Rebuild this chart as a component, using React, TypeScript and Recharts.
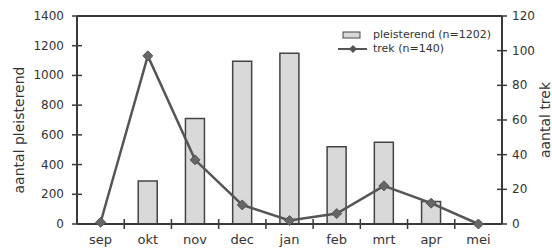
import React from 'react';
import { ComposedChart, Bar, Line, XAxis, YAxis, ReferenceLine, Legend } from 'recharts';

const months = ['sep', 'okt', 'nov', 'dec', 'jan', 'feb', 'mrt', 'apr', 'mei'];
const pleisterend = [0, 290, 710, 1095, 1150, 520, 550, 152, 0];
const trek = [1, 97, 37, 11, 2, 6, 22, 12, 0];
const leftTicks = [0, 200, 400, 600, 800, 1000, 1200, 1400];
const rightTicks = [0, 20, 40, 60, 80, 100, 120];
const seriesNames = ['pleisterend (n=1202)', 'trek (n=140)'];

const data = months.map((m, i) => ({ month: m, pleisterend: pleisterend[i], trek: trek[i] }));

const FONT = 'DejaVu Sans, sans-serif';
const AXIS = '#3a3a3a';
const CHART_W = 552;
const CHART_H = 249;
const LEFT_W = 77;
const RIGHT_W = 50;
const BAND = (CHART_W - LEFT_W - RIGHT_W) / months.length;

const LeftTick = (props: any) => {
  const { x, y, payload } = props;
  return (
    <g>
      <line x1={x - 5} x2={x + 5} y1={y} y2={y} stroke={AXIS} strokeWidth={1.5} />
      <text x={x - 13} y={y} dy={4} textAnchor="end" fontSize={12} fontFamily={FONT} fill="#333">
        {payload.value}
      </text>
    </g>
  );
};

const RightTick = (props: any) => {
  const { x, y, payload } = props;
  return (
    <g>
      <line x1={x - 5} x2={x + 5} y1={y} y2={y} stroke={AXIS} strokeWidth={1.5} />
      <text x={x + 10} y={y} dy={4} textAnchor="start" fontSize={12} fontFamily={FONT} fill="#333">
        {payload.value}
      </text>
    </g>
  );
};

const XTick = (props: any) => {
  const { x, y, payload, index } = props;
  return (
    <g>
      {index > 0 && (
        <line x1={x - BAND / 2} x2={x - BAND / 2} y1={y - 5} y2={y + 5} stroke={AXIS} strokeWidth={1.5} />
      )}
      <text x={x} y={y} dy={20} textAnchor="middle" fontSize={13} fontFamily={FONT} fill="#333">
        {payload.value}
      </text>
    </g>
  );
};

const Diamond = (props: any) => {
  const { cx, cy } = props;
  if (cx == null || cy == null) return null;
  const r = 5;
  return (
    <polygon
      points={`${cx},${cy - r} ${cx + r},${cy} ${cx},${cy + r} ${cx - r},${cy}`}
      fill="#666"
      stroke="#555"
      strokeWidth={1}
    />
  );
};

const LegendContent = () => (
  <div style={{ fontFamily: FONT, fontSize: 11, color: '#333', lineHeight: '14px' }}>
    <div style={{ display: 'flex', alignItems: 'center' }}>
      <svg width={32} height={12}>
        <rect x={5} y={3} width={17} height={6} fill="#d9d9d9" stroke="#444" strokeWidth={1} />
      </svg>
      <span style={{ marginLeft: 3 }}>{seriesNames[0]}</span>
    </div>
    <div style={{ display: 'flex', alignItems: 'center' }}>
      <svg width={32} height={12}>
        <line x1={0} x2={29} y1={6} y2={6} stroke="#555" strokeWidth={2} />
        <polygon points="15,2 19,6 15,10 11,6" fill="#555" />
      </svg>
      <span style={{ marginLeft: 3 }}>{seriesNames[1]}</span>
    </div>
  </div>
);

const LeftLabel = (props: any) => {
  const vb = props.viewBox;
  const cx = vb.x + 19;
  const cy = 130;
  return (
    <text x={cx} y={cy} transform={`rotate(-90 ${cx} ${cy})`} textAnchor="middle" dominantBaseline="central" fontSize={14} fontFamily={FONT} fill="#333">
      aantal pleisterend
    </text>
  );
};

const RightLabel = (props: any) => {
  const vb = props.viewBox;
  const cx = vb.x + 43;
  const cy = 120;
  return (
    <text x={cx} y={cy} transform={`rotate(-90 ${cx} ${cy})`} textAnchor="middle" dominantBaseline="central" fontSize={14} fontFamily={FONT} fill="#333">
      aantal trek
    </text>
  );
};

export default function App() {
  return (
    <div style={{ position: 'absolute', left: 0, top: 0, background: '#fff' }}>
      <ComposedChart width={CHART_W} height={CHART_H} data={data} margin={{ top: 16, right: 0, left: 0, bottom: 0 }}>
        <XAxis
          dataKey="month"
          height={25}
          tick={<XTick />}
          tickLine={false}
          tickSize={0}
          tickMargin={0}
          axisLine={{ stroke: AXIS, strokeWidth: 2 }}
          interval={0}
        />
        <YAxis
          yAxisId="left"
          width={LEFT_W}
          domain={[0, 1400]}
          ticks={leftTicks}
          tick={<LeftTick />}
          tickLine={false}
          tickSize={0}
          tickMargin={0}
          axisLine={{ stroke: AXIS, strokeWidth: 2 }}
          interval={0}
          label={<LeftLabel />}
        />
        <YAxis
          yAxisId="right"
          orientation="right"
          width={RIGHT_W}
          domain={[0, 120]}
          ticks={rightTicks}
          tick={<RightTick />}
          tickLine={false}
          tickSize={0}
          tickMargin={0}
          axisLine={{ stroke: AXIS, strokeWidth: 2 }}
          interval={0}
          label={<RightLabel />}
        />
        <ReferenceLine yAxisId="left" y={1400} stroke={AXIS} strokeWidth={2} />
        <Legend
          content={<LegendContent />}
          layout="vertical"
          verticalAlign="middle"
          align="center"
          wrapperStyle={{ position: 'absolute', left: 338, top: 28, width: 170 }}
        />
        <Bar
          yAxisId="left"
          dataKey="pleisterend"
          barSize={19}
          fill="#d9d9d9"
          stroke="#444"
          strokeWidth={1.5}
          isAnimationActive={false}
        />
        <Line
          yAxisId="right"
          dataKey="trek"
          stroke="#555"
          strokeWidth={2.5}
          dot={<Diamond />}
          activeDot={false}
          isAnimationActive={false}
        />
      </ComposedChart>
    </div>
  );
}
